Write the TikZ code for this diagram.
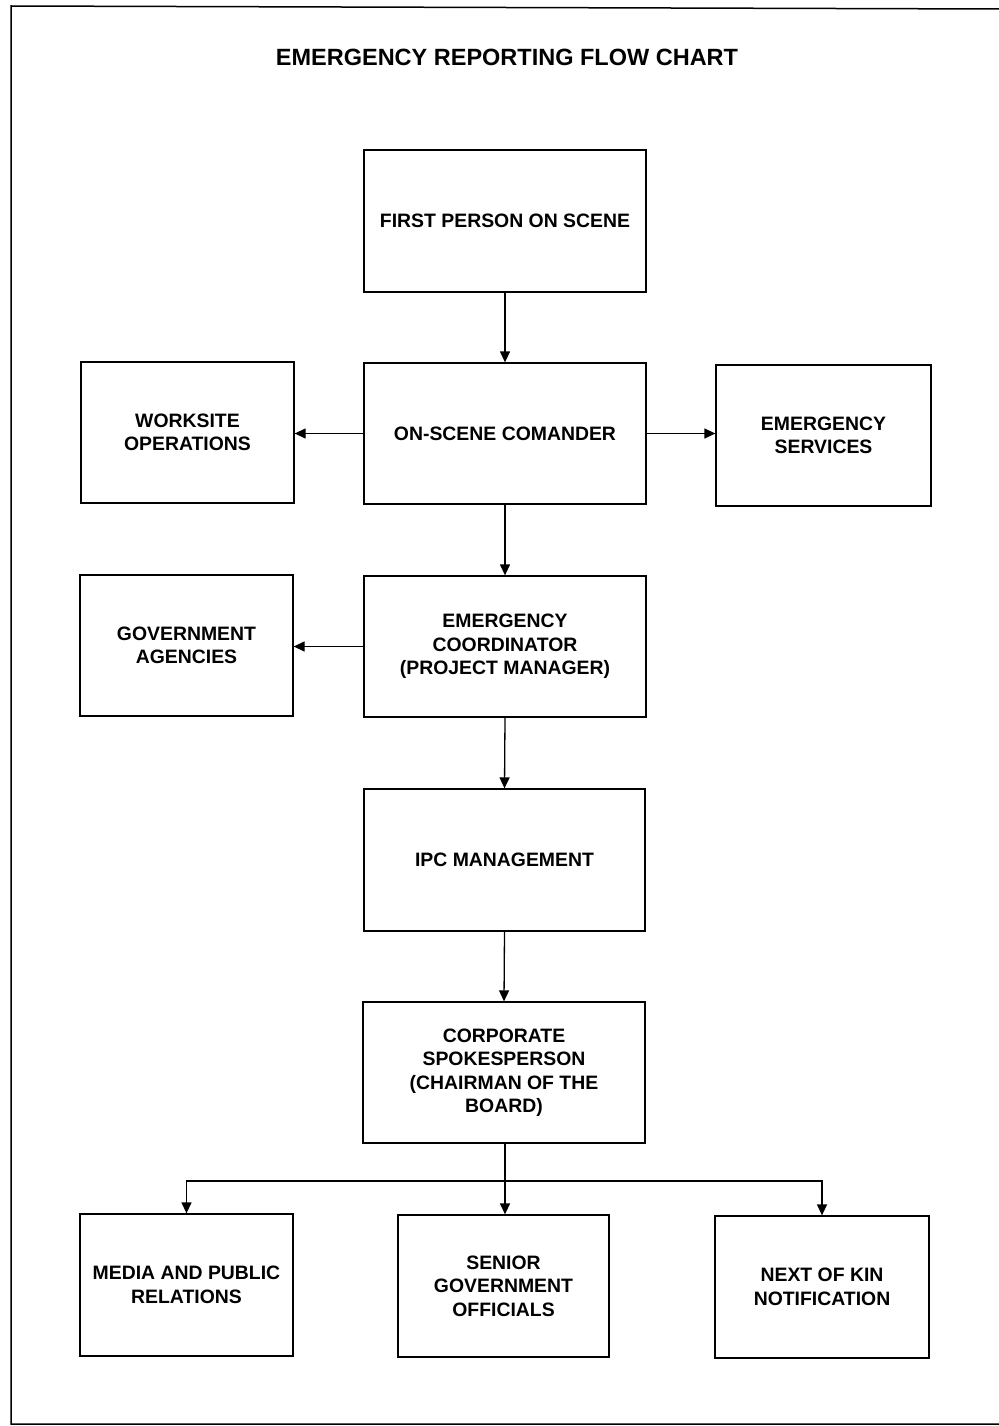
\documentclass[tikz,border=0pt]{standalone}
\usepackage{fontspec}
\setmainfont{Liberation Sans}
\usetikzlibrary{arrows.meta}
\begin{document}
\begin{tikzpicture}[x=1pt,y=-1pt,
  box/.style={draw, line width=1.3pt, rectangle, align=center,
    font=\fontsize{19.4}{23.5}\selectfont\bfseries, inner sep=0pt},
  conn/.style={line width=1.3pt, -{Triangle[length=11pt,width=10pt]}},
  plain/.style={line width=1.3pt}]
\useasboundingbox (0,0) rectangle (998,1426);
\draw[line width=1.5pt] (1000,1424) -- (11,1424) -- (11,6) -- (1000,9);
\node[font=\fontsize{23.5}{28}\selectfont\bfseries] (title) at (507,57) {EMERGENCY REPORTING FLOW CHART};
\node[box, minimum width=282pt, minimum height=142pt] (first) at (505,221) {FIRST PERSON ON SCENE};
\node[box, minimum width=213pt, minimum height=141pt] (work) at (187.5,432.5) {WORKSITE\\OPERATIONS};
\node[box, minimum width=282pt, minimum height=141pt] (onscene) at (505,433.5) {ON-SCENE COMANDER};
\node[box, minimum width=215pt, minimum height=141pt] (emsvc) at (823.5,435.5) {EMERGENCY\\SERVICES};
\node[box, minimum width=213pt, minimum height=141pt] (gov) at (186.5,645.5) {GOVERNMENT\\AGENCIES};
\node[box, minimum width=282pt, minimum height=141pt] (coord) at (505,646.5) {EMERGENCY\\COORDINATOR\\(PROJECT MANAGER)};
\node[box, minimum width=281pt, minimum height=142pt] (ipc) at (504.5,860) {IPC MANAGEMENT};
\node[box, minimum width=282pt, minimum height=141pt] (corp) at (504,1072.5) {CORPORATE\\SPOKESPERSON\\(CHAIRMAN OF THE\\BOARD)};
\node[box, minimum width=213pt, minimum height=142pt] (media) at (186.5,1285) {MEDIA AND PUBLIC\\RELATIONS};
\node[box, minimum width=211pt, minimum height=142pt] (senior) at (503.5,1286) {SENIOR\\GOVERNMENT\\OFFICIALS};
\node[box, minimum width=214pt, minimum height=142pt] (kin) at (822,1287) {NEXT OF KIN\\NOTIFICATION};
\coordinate (split) at (505,1181);
\draw[conn] (first.south) -- (onscene.north);
\draw[conn] (onscene.west) -- (onscene.west -| work.east);
\draw[conn] (onscene.east) -- (onscene.east -| emsvc.west);
\draw[conn] (onscene.south) -- (coord.north);
\draw[conn] (coord.west) -- (coord.west -| gov.east);
\draw[conn] (coord.south) -- (ipc.north);
\draw[conn] (ipc.south) -- (corp.north);
\draw[plain] (corp.south -| split) -- (split);
\draw[conn] (split) -- (split |- senior.north);
\draw[conn] (split) -| (media.north);
\draw[conn] (split) -| (kin.north);
\end{tikzpicture}
\end{document}
